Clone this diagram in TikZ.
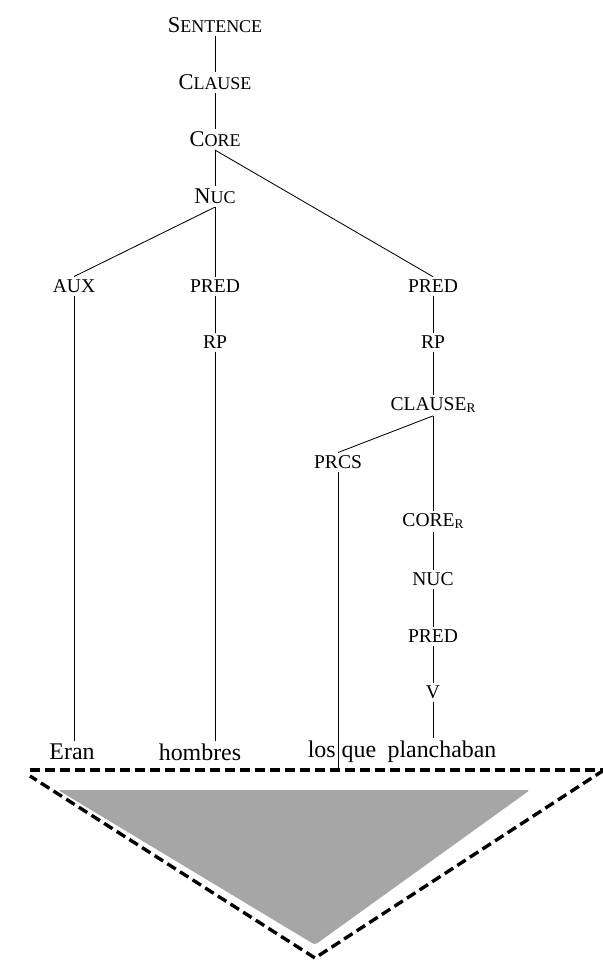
\documentclass[tikz,border=0pt]{standalone}
\usepackage{fontspec}
\setmainfont{Liberation Serif}
\usetikzlibrary{positioning}

\newcommand{\smc}[1]{{\fontsize{12.8}{14}\selectfont #1}}
\newcommand{\subr}{\raisebox{-0.25ex}{\fontsize{9.5}{10}\selectfont R}}

\begin{document}
\begin{tikzpicture}[
node distance=1.43cm,
on grid,
lbl/.style={
    inner sep=2pt,
    font=\fontsize{13.9}{15}\selectfont
},
toplbl/.style={
    inner sep=2pt,
    font=\fontsize{16}{18}\selectfont
},
word/.style={
    inner sep=2pt,
    font=\fontsize{17}{19}\selectfont
},
link/.style={
    line width=0.6pt
},
border/.style={
    line width=2.4pt,
    dash pattern=on 0.25cm off 0.125cm
}
]
\useasboundingbox (0,0) rectangle (15.075,-24.1);

% Top spine
\node[toplbl] (sentence) at (5.375,-0.625) {S\smc{ENTENCE}};
\node[toplbl,below=of sentence] (clause) {C\smc{LAUSE}};
\node[toplbl,below=of clause] (core) {C\smc{ORE}};
\node[toplbl,below=of core] (nuc) {N\smc{UC}};

% Predicates
\node[lbl,below=2.24cm of nuc] (predA) {PRED};
\node[lbl,left=3.525cm of predA] (aux) {AUX};
\node[lbl,right=5.45cm of predA] (predB) {PRED};
\node[lbl,below=1.4cm of predA] (rpA) {RP};
\node[lbl,below=1.4cm of predB] (rpB) {RP};

% Relative clause
\node[lbl,below=1.575cm of rpB] (clauseR) {CLAUSE\subr};
\node[lbl,below left=1.425cm and 2.375cm of clauseR] (prcs) {PRCS};
\node[lbl,below=2.9cm of clauseR] (coreR) {CORE\subr};
\node[lbl,below=1.45cm of coreR] (nucR) {NUC};
\node[lbl,below=1.425cm of nucR] (predC) {PRED};
\node[lbl,below=1.4cm of predC] (verb) {V};

% Words
\node[word] (eran) at (1.8,-18.8) {Eran};
\node[word] (hombres) at (5.0,-18.8) {hombres};
\node[word] (losque) at (8.55,-18.8) {los que};
\node[word] (planchaban) at (11.05,-18.8) {planchaban};

% Triangle
\coordinate (tl) at (0.75,-19.25);
\coordinate (tr) at (15.1,-19.25);
\coordinate (tb) at (7.875,-23.95);
\coordinate (losend) at (8.43,-19.25);
\fill[gray!70,rounded corners=2pt] (1.45,-19.75) -- (13.25,-19.75) -- (7.875,-23.62) -- cycle;
\draw[border] (tl) -- (tr);
\draw[border] (tr) -- (tb) -- (0.75,-19.4);

% Connections
\draw[link] (sentence) -- (clause);
\draw[link] (clause) -- (core);
\draw[link] (core) -- (nuc);
\draw[link] (core.south) -- (predB.north);
\draw[link] (nuc.south) -- (aux.north);
\draw[link] (nuc) -- (predA);
\draw[link] (predA) -- (rpA);
\draw[link] (predB) -- (rpB);
\draw[link] (rpB) -- (clauseR);
\draw[link] (clauseR.south) -- (prcs.north);
\draw[link] (clauseR) -- (coreR);
\draw[link] (coreR) -- (nucR);
\draw[link] (nucR) -- (predC);
\draw[link] (predC) -- (verb);
\draw[link] (aux) -- (aux |- eran.north);
\draw[link] (rpA) -- (rpA |- hombres.north);
\draw[link] (prcs) -- (prcs |- losend);
\draw[link] (verb) -- (verb |- planchaban.north);

\end{tikzpicture}
\end{document}
